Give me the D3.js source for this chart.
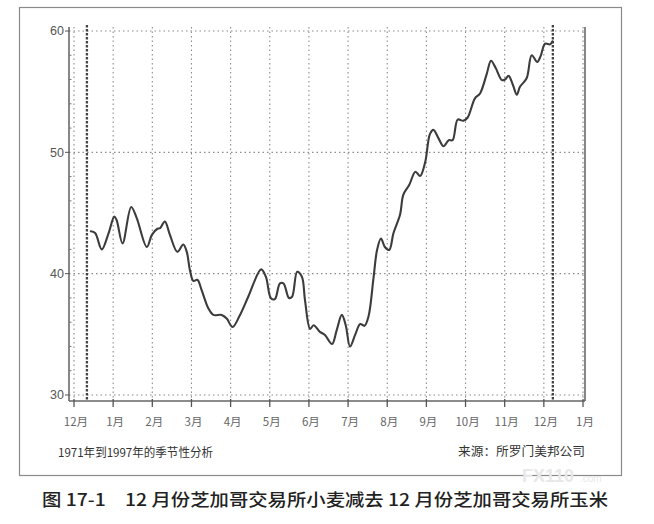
<!DOCTYPE html>
<html><head><meta charset="utf-8">
<script src="https://cdn.jsdelivr.net/npm/d3@7"></script>
<style>
html,body{margin:0;padding:0;background:#fff;}
svg{display:block;}
</style></head>
<body>
<svg id="c" width="654" height="524"></svg>
<script>
// month tick labels (Dec of prior year through Jan of following year)
const monthLabels = ["12月","1月","2月","3月","4月","5月","6月","7月","8月","9月","10月","11月","12月","1月"];
const yTicks = [30, 40, 50, 60];
const yMinorTicks = [32, 34, 36, 38, 42, 44, 46, 48, 52, 54, 56, 58];
// contract window markers (month position)
const markers = [0.33, 12.23];
// seasonal spread: position in months since 1 Dec, value
const t = [0.43,0.54,0.71,0.88,1.03,1.09,1.24,1.46,1.60,1.86,1.99,2.13,2.20,2.32,2.45,2.64,2.79,2.88,2.96,3.05,3.15,3.26,3.43,3.56,3.77,3.90,4.05,4.24,4.45,4.78,4.90,5.03,5.13,5.26,5.35,5.49,5.57,5.70,5.82,5.90,6.03,6.12,6.28,6.41,6.59,6.71,6.84,6.94,7.05,7.18,7.31,7.42,7.52,7.65,7.74,7.84,7.94,8.05,8.16,8.33,8.41,8.56,8.72,8.84,8.97,9.09,9.18,9.31,9.44,9.57,9.67,9.80,9.94,10.05,10.24,10.37,10.54,10.65,10.77,10.93,11.01,11.10,11.21,11.31,11.39,11.56,11.69,11.83,11.92,12.03,12.16,12.22];
const v = [43.5,43.35,42.0,43.3,44.7,44.4,42.5,45.5,44.6,42.2,43.2,43.7,43.75,44.3,43.2,41.8,42.4,41.8,40.3,39.4,39.5,38.65,37.15,36.6,36.6,36.3,35.6,36.6,38.1,40.35,39.75,37.97,37.9,39.2,39.2,38.0,38.1,40.15,39.75,37.8,35.45,35.75,35.2,34.95,34.2,35.35,36.6,35.75,34.0,34.95,35.85,35.7,36.45,39.65,41.95,42.9,42.2,41.95,43.35,44.9,46.5,47.3,48.4,48.05,49.2,51.5,51.85,51.15,50.5,51.0,51.0,52.7,52.6,52.85,54.45,54.85,56.45,57.55,56.95,55.95,56.0,56.3,55.55,54.75,55.4,56.1,58.0,57.45,57.95,58.95,58.9,59.15];

const svg = d3.select("#c");
const x = d3.scaleLinear().domain([0, 13]).range([74, 583]);
const y = d3.scaleLinear().domain([30, 60]).range([395, 31]);
const pLeft = 69, pRight = 585, pTop = 27, pBottom = 401;

// outer frame
svg.append("rect").attr("x",19.5).attr("y",7.5).attr("width",602).attr("height",468)
  .attr("fill","none").attr("stroke","#8a8a8a").attr("stroke-width",1.2);

// horizontal grid
svg.append("g").selectAll("line").data(yTicks).join("line")
  .attr("x1",pLeft).attr("x2",pRight).attr("y1",d=>y(d)).attr("y2",d=>y(d))
  .attr("stroke","#8c8c8c").attr("stroke-width",1.1).attr("stroke-dasharray","1.5,3");

// vertical grid
svg.append("g").selectAll("line").data(d3.range(0, 14)).join("line")
  .attr("x1",d=>x(d)).attr("x2",d=>x(d)).attr("y1",pTop).attr("y2",pBottom)
  .attr("stroke","#8c8c8c").attr("stroke-width",1.1).attr("stroke-dasharray","1.5,3");

// contract window markers
svg.append("g").selectAll("line").data(markers).join("line")
  .attr("x1",d=>x(d)).attr("x2",d=>x(d)).attr("y1",pTop-2).attr("y2",pBottom)
  .attr("stroke","#444").attr("stroke-width",2.3).attr("stroke-dasharray","2.5,1.5");

// axes frame
svg.append("line").attr("x1",pLeft).attr("x2",pLeft).attr("y1",pTop).attr("y2",pBottom)
  .attr("stroke","#555").attr("stroke-width",1.4);
svg.append("line").attr("x1",pRight).attr("x2",pRight).attr("y1",pTop).attr("y2",pBottom)
  .attr("stroke","#555").attr("stroke-width",1.4);
svg.append("line").attr("x1",pLeft).attr("x2",pRight).attr("y1",pBottom).attr("y2",pBottom)
  .attr("stroke","#666").attr("stroke-width",1.3);

// y ticks
svg.append("g").selectAll("line").data(yTicks).join("line")
  .attr("x1",pLeft-4).attr("x2",pLeft).attr("y1",d=>y(d)).attr("y2",d=>y(d))
  .attr("stroke","#555").attr("stroke-width",1);
svg.append("g").selectAll("line").data(yMinorTicks).join("line")
  .attr("x1",pLeft).attr("x2",pLeft+2.5).attr("y1",d=>y(d)).attr("y2",d=>y(d))
  .attr("stroke","#777").attr("stroke-width",1);
svg.append("g").selectAll("text").data(yTicks).join("text")
  .attr("x",pLeft-5).attr("y",d=>y(d)).attr("dy","0.35em").attr("text-anchor","end")
  .attr("font-family","Liberation Sans, Arial, sans-serif").attr("font-size",12.5)
  .attr("fill","#555").text(d=>d);

// x ticks
svg.append("g").selectAll("line").data(monthLabels).join("line")
  .attr("x1",(d,i)=>x(i)).attr("x2",(d,i)=>x(i)).attr("y1",pBottom-2).attr("y2",pBottom+6)
  .attr("stroke","#555").attr("stroke-width",1.3);
svg.append("g").selectAll("text").data(monthLabels).join("text")
  .attr("x",(d,i)=>x(i)+2).attr("y",426).attr("text-anchor","middle")
  .attr("font-family","Noto Sans CJK SC, sans-serif").attr("font-size",11.5)
  .attr("fill","#666").text(d=>d);

// series line
const pts = t.map((d,i)=>[d, v[i]]);
svg.append("path").datum(pts)
  .attr("d", d3.line().x(d=>x(d[0])).y(d=>y(d[1])).curve(d3.curveCatmullRom.alpha(0.5)))
  .attr("fill","none").attr("stroke","#3c3c3c").attr("stroke-width",2.1)
  .attr("stroke-linejoin","round").attr("stroke-linecap","round");

// footnotes
svg.append("text").attr("x",58).attr("y",457)
  .attr("font-family","Noto Sans CJK SC, sans-serif").attr("font-size",12)
  .attr("fill","#333").attr("textLength",155).attr("lengthAdjust","spacingAndGlyphs")
  .text("1971年到1997年的季节性分析");
svg.append("text").attr("x",458).attr("y",456)
  .attr("font-family","Noto Sans CJK SC, sans-serif").attr("font-size",12.5)
  .attr("fill","#333").attr("textLength",127).attr("lengthAdjust","spacingAndGlyphs")
  .text("来源：所罗门美邦公司");

// watermark
svg.append("text").attr("x",522).attr("y",482)
  .attr("font-family","Liberation Sans, Arial, sans-serif").attr("font-size",18).attr("font-weight","bold")
  .attr("fill","#e8e8e8").text("FX110");
svg.append("text").attr("x",580).attr("y",482)
  .attr("font-family","Liberation Sans, Arial, sans-serif").attr("font-size",10)
  .attr("fill","#e8e8e8").text(".com");

// caption
svg.append("text").attr("x",42).attr("y",506)
  .attr("font-family","Noto Sans CJK SC, sans-serif").attr("font-size",17).attr("font-weight",500)
  .attr("fill","#222").attr("textLength",566).attr("lengthAdjust","spacingAndGlyphs")
  .text("图 17-1　12 月份芝加哥交易所小麦减去 12 月份芝加哥交易所玉米");
</script>
</body></html>
